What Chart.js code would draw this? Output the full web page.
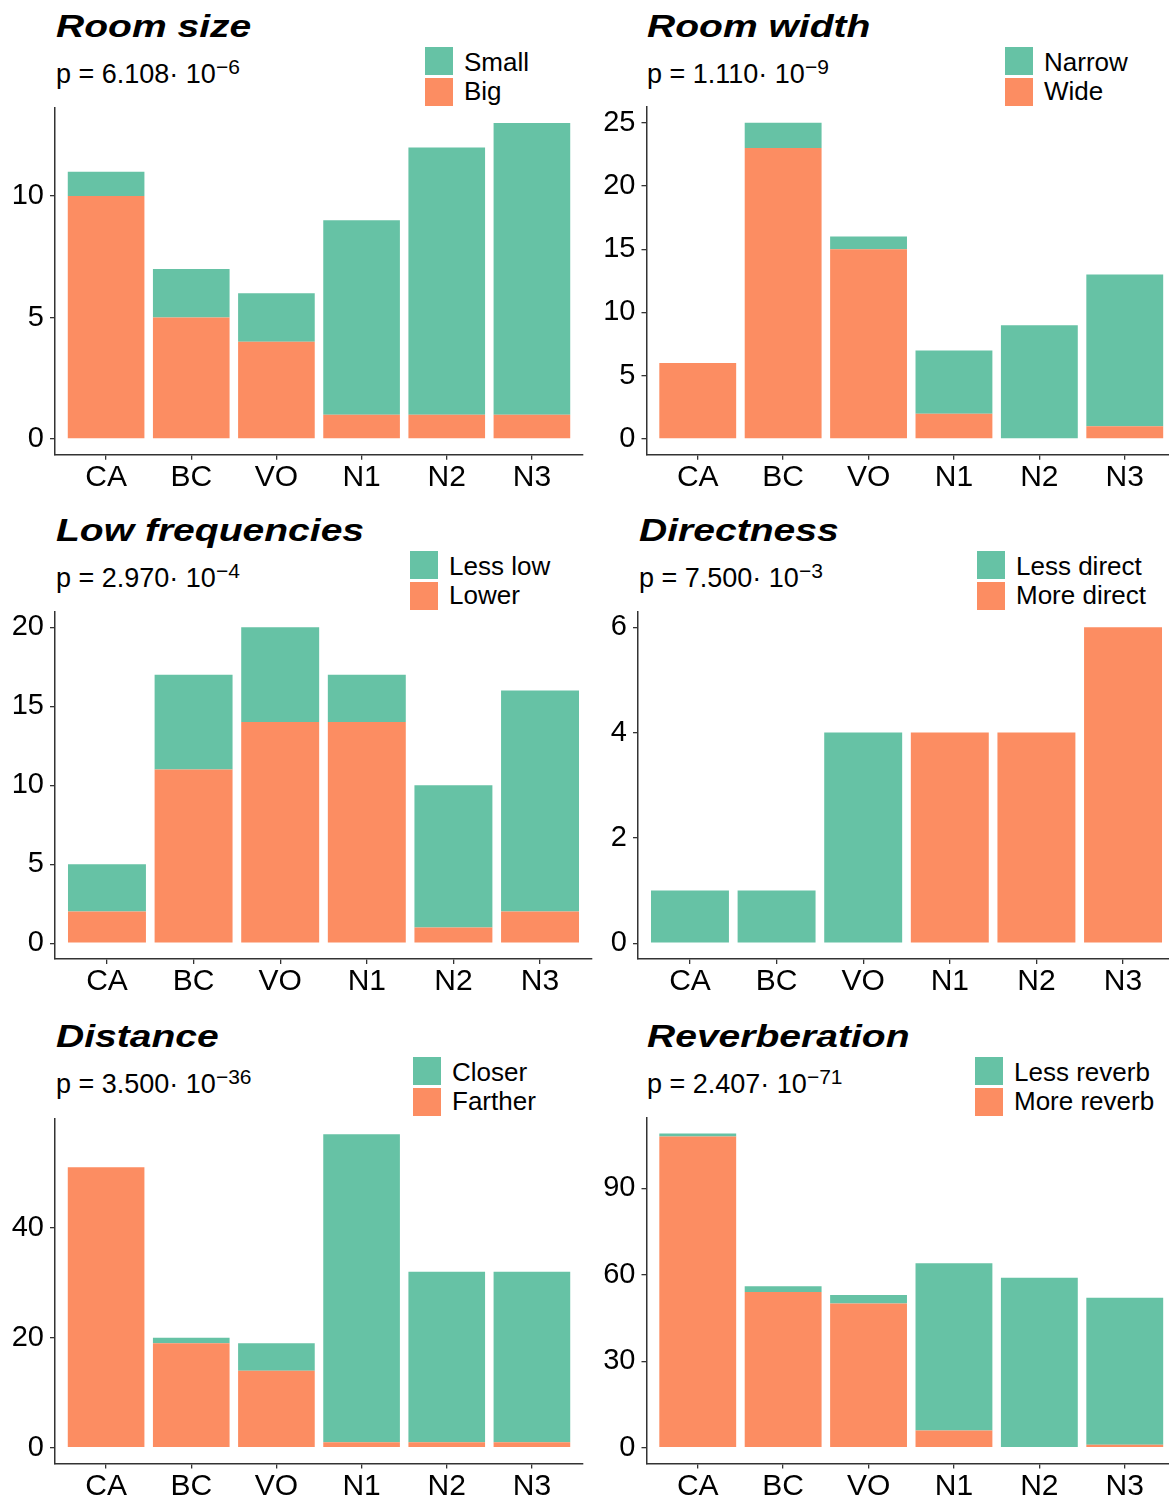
<!DOCTYPE html>
<html>
<head>
<meta charset="utf-8">
<script src="https://cdn.jsdelivr.net/npm/chart.js@4.4.1/dist/chart.umd.min.js"></script>
<style>
  html, body { margin: 0; padding: 0; background: #fff; overflow: hidden; }
  #wrap { position: relative; width: 1169px; height: 1502px; overflow: hidden;
          font-family: "Liberation Sans", Arial, sans-serif; color: #000; }
  #wrap canvas { position: absolute; }
  .title { position: absolute; font-weight: bold; font-style: italic; font-size: 32px;
           line-height: 32px; white-space: nowrap; transform: scaleX(1.22); transform-origin: 0 0; }
  .pval { position: absolute; font-size: 27px; line-height: 27px; white-space: nowrap; }
  .pval span { font-size: 21px; position: relative; top: -9px; }
  .key { position: absolute; width: 28px; height: 28px; }
  .keylab { position: absolute; font-size: 26px; line-height: 26px; white-space: nowrap; }
</style>
</head>
<body>
<div id="wrap"></div>
<script>
// Groups on the x axis
const categories = ['CA', 'BC', 'VO', 'N1', 'N2', 'N3'];

// Room size
const roomSizeSmall = [1, 2, 2, 8, 11, 12];
const roomSizeBig   = [10, 5, 4, 1, 1, 1];
const roomSizeTicks = [0, 5, 10];

// Room width
const roomWidthNarrow = [0, 2, 1, 5, 9, 12];
const roomWidthWide   = [6, 23, 15, 2, 0, 1];
const roomWidthTicks  = [0, 5, 10, 15, 20, 25];

// Low frequencies
const lowFreqLessLow = [3, 6, 6, 3, 9, 14];
const lowFreqLower   = [2, 11, 14, 14, 1, 2];
const lowFreqTicks   = [0, 5, 10, 15, 20];

// Directness
const directnessLess = [1, 1, 4, 0, 0, 0];
const directnessMore = [0, 0, 0, 4, 4, 6];
const directnessTicks = [0, 2, 4, 6];

// Distance
const distanceCloser  = [0, 1, 5, 56, 31, 31];
const distanceFarther = [51, 19, 14, 1, 1, 1];
const distanceTicks   = [0, 20, 40];

// Reverberation
const reverbLess  = [1, 2, 3, 58, 59, 51];
const reverbMore  = [108, 54, 50, 6, 0, 1];
const reverbTicks = [0, 30, 60, 90];

const GREEN = '#66C2A5';
const ORANGE = '#FC8D62';
const AXIS = '#333333';
const FONT = '"Liberation Sans", Arial, sans-serif';

// One entry per facet: texts, series, and where its plot area sits on the page
const panels = [
  { title: 'Room size', mant: '6.108', exp: '\u22126', keys: ['Small', 'Big'],
    top: roomSizeSmall, bottom: roomSizeBig, ticks: roomSizeTicks,
    area: { l: 55, t: 107.3, r: 583, b: 454.8 }, titleX: 56, keyX: 425, dy: 0 },
  { title: 'Room width', mant: '1.110', exp: '\u22129', keys: ['Narrow', 'Wide'],
    top: roomWidthNarrow, bottom: roomWidthWide, ticks: roomWidthTicks,
    area: { l: 646.5, t: 106.9, r: 1176, b: 454.8 }, titleX: 647, keyX: 1005, dy: 0 },
  { title: 'Low frequencies', mant: '2.970', exp: '\u22124', keys: ['Less low', 'Lower'],
    top: lowFreqLessLow, bottom: lowFreqLower, ticks: lowFreqTicks,
    area: { l: 55, t: 611.5, r: 592, b: 959 }, titleX: 56, keyX: 410, dy: 504 },
  { title: 'Directness', mant: '7.500', exp: '\u22123', keys: ['Less direct', 'More direct'],
    top: directnessLess, bottom: directnessMore, ticks: directnessTicks,
    area: { l: 638, t: 611.5, r: 1175, b: 959 }, titleX: 639, keyX: 977, dy: 504 },
  { title: 'Distance', mant: '3.500', exp: '\u221236', keys: ['Closer', 'Farther'],
    top: distanceCloser, bottom: distanceFarther, ticks: distanceTicks,
    area: { l: 55, t: 1118.5, r: 583, b: 1463.4 }, titleX: 56, keyX: 413, dy: 1010 },
  { title: 'Reverberation', mant: '2.407', exp: '\u221271', keys: ['Less reverb', 'More reverb'],
    top: reverbLess, bottom: reverbMore, ticks: reverbTicks,
    area: { l: 646.5, t: 1117.8, r: 1176, b: 1463.4 }, titleX: 647, keyX: 975, dy: 1010 }
];

const wrap = document.getElementById('wrap');

function addDiv(cls, left, top, html, extra) {
  const d = document.createElement('div');
  d.className = cls;
  d.style.left = left + 'px';
  d.style.top = top + 'px';
  if (html !== undefined) d.innerHTML = html;
  if (extra) Object.assign(d.style, extra);
  wrap.appendChild(d);
  return d;
}

function drawPanel(p) {
  const a = p.area;
  // header: title, p value, legend
  addDiv('title', p.titleX, 10 + p.dy, p.title);
  addDiv('pval', p.titleX, 61 + p.dy, 'p = ' + p.mant + '\u00B7 10<span>' + p.exp + '</span>');
  addDiv('key', p.keyX, 47.3 + p.dy, undefined, { background: GREEN });
  addDiv('key', p.keyX, 78.3 + p.dy, undefined, { background: ORANGE });
  addDiv('keylab', p.keyX + 39, 49 + p.dy, p.keys[0]);
  addDiv('keylab', p.keyX + 39, 77.5 + p.dy, p.keys[1]);

  // chart canvas
  const left = Math.floor(a.l - 56);
  const top = Math.floor(a.t - 6);
  const width = Math.ceil(a.r + 4 - left);
  const height = Math.ceil(a.b + 46 - top);
  const cv = document.createElement('canvas');
  cv.width = width;
  cv.height = height;
  cv.style.left = left + 'px';
  cv.style.top = top + 'px';
  cv.style.width = width + 'px';
  cv.style.height = height + 'px';
  wrap.appendChild(cv);

  const totals = p.bottom.map((v, i) => v + p.top[i]);
  const ymax = Math.max(...totals);

  new Chart(cv, {
    type: 'bar',
    data: {
      datasets: [
        { label: p.keys[1], data: p.bottom.map((v, i) => ({ x: i + 1, y: v })), backgroundColor: ORANGE },
        { label: p.keys[0], data: p.top.map((v, i) => ({ x: i + 1, y: v })), backgroundColor: GREEN }
      ]
    },
    options: {
      responsive: false,
      animation: false,
      devicePixelRatio: 1,
      layout: { padding: { left: 0, top: a.t - top, right: left + width - a.r, bottom: 0 } },
      plugins: { legend: { display: false }, tooltip: { enabled: false } },
      datasets: { bar: { categoryPercentage: 0.9, barPercentage: 1, borderWidth: 0 } },
      scales: {
        x: {
          type: 'linear', stacked: true, bounds: 'data', offset: false,
          min: 0.4, max: categories.length + 0.6,
          afterBuildTicks: s => { s.ticks = categories.map((c, i) => ({ value: i + 1 })); },
          ticks: { callback: v => categories[v - 1] ?? '', font: { size: 30, family: FONT },
                   color: '#000', padding: 0, maxRotation: 0, autoSkip: false },
          grid: { display: true, offset: false, drawOnChartArea: false, drawTicks: true,
                  tickLength: 5, color: AXIS, lineWidth: 1.3 },
          border: { display: true, color: AXIS, width: 1.5 },
          afterFit: s => { s.height = height - (a.b - top); s.paddingLeft = 0; s.paddingRight = 0; }
        },
        y: {
          stacked: true, bounds: 'data', min: -0.05 * ymax, max: 1.05 * ymax,
          afterBuildTicks: s => { s.ticks = p.ticks.map(v => ({ value: v })); },
          ticks: { font: { size: 29, family: FONT }, color: '#000', padding: 6 },
          grid: { display: true, drawOnChartArea: false, drawTicks: true, tickLength: 5, color: AXIS, lineWidth: 1.3 },
          border: { display: true, color: AXIS, width: 1.5 },
          afterFit: s => { s.width = a.l - left; s.paddingTop = 0; s.paddingBottom = 0; }
        }
      }
    }
  });
}

panels.forEach(drawPanel);
</script>
</body>
</html>
